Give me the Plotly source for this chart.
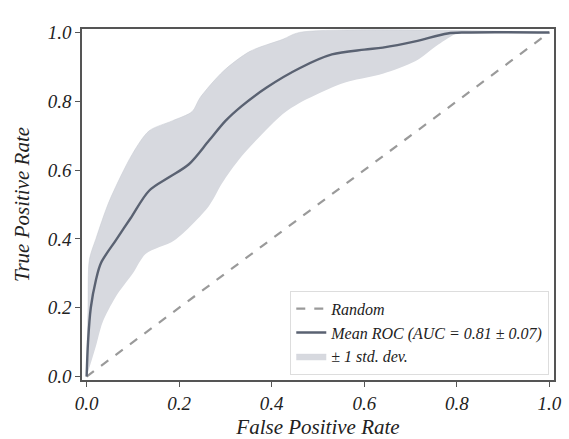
import plotly.graph_objects as go

# Mean ROC curve
mean_fpr = [0, 0.003, 0.009, 0.02, 0.031, 0.063, 0.095, 0.135, 0.178, 0.221, 0.264,
            0.30, 0.335, 0.389, 0.46, 0.53, 0.60, 0.64, 0.71, 0.78, 0.82, 1.0]
mean_tpr = [0, 0.10, 0.20, 0.28, 0.33, 0.396, 0.46, 0.54, 0.579, 0.617, 0.685,
            0.743, 0.786, 0.84, 0.896, 0.936, 0.95, 0.956, 0.974, 0.997, 1.0, 1.0]

# Upper band (mean + 1 std, clipped at 1)
upper_fpr = [0, 0.003, 0.006, 0.02, 0.049, 0.099, 0.135, 0.185, 0.228, 0.245,
             0.295, 0.353, 0.424, 0.46, 1.0]
upper_tpr = [0, 0.20, 0.34, 0.40, 0.51, 0.647, 0.714, 0.743, 0.77, 0.81,
             0.887, 0.945, 0.98, 1.0, 1.0]

# Lower band (mean - 1 std, clipped at 0)
lower_fpr = [0, 0.02, 0.034, 0.063, 0.10, 0.128, 0.19, 0.264, 0.292, 0.335,
             0.424, 0.46, 0.53, 0.568, 0.64, 0.71, 0.76, 0.80, 0.82, 1.0]
lower_tpr = [0, 0.088, 0.156, 0.232, 0.30, 0.357, 0.396, 0.495, 0.56, 0.64,
             0.763, 0.795, 0.84, 0.858, 0.88, 0.916, 0.965, 0.997, 1.0, 1.0]

random_x = [0, 1]
random_y = [0, 1]

tick_vals = [0.0, 0.2, 0.4, 0.6, 0.8, 1.0]
tick_text = ["0.0", "0.2", "0.4", "0.6", "0.8", "1.0"]

font_family = "Liberation Serif"

fig = go.Figure()

# band: lower then upper (filled to lower)
fig.add_trace(go.Scatter(x=lower_fpr, y=lower_tpr, mode="lines",
                         line=dict(width=0, color="rgba(0,0,0,0)", shape="spline", smoothing=0.8),
                         showlegend=False, hoverinfo="skip"))
fig.add_trace(go.Scatter(x=upper_fpr, y=upper_tpr, mode="lines",
                         line=dict(width=0.6, color="rgba(200,203,210,0.9)", shape="spline", smoothing=0.8),
                         fill="tonexty", fillcolor="rgba(215,217,223,1)",
                         name="\u00b1 1 std. dev.", legendrank=3))
fig.add_trace(go.Scatter(x=random_x, y=random_y, mode="lines",
                         line=dict(color="#9a9a9a", width=2.2, dash="dash"),
                         name="Random", legendrank=1))
fig.add_trace(go.Scatter(x=mean_fpr, y=mean_tpr, mode="lines",
                         line=dict(color="#5a6272", width=2.4, shape="spline", smoothing=0.9),
                         name="Mean ROC (AUC = 0.81 \u00b1 0.07)", legendrank=2))

axis_common = dict(
    range=[-0.01, 1.01],
    tickvals=tick_vals,
    ticktext=tick_text,
    showgrid=False,
    zeroline=False,
    showline=True,
    linecolor="#555555",
    linewidth=1.5,
    mirror=True,
    ticks="outside",
    ticklen=5,
    tickwidth=1.2,
    tickcolor="#555555",
    automargin=False,
    tickfont=dict(family=font_family, size=19, color="#222222", style="italic"),
)

fig.update_xaxes(**axis_common,
                 title=dict(text="False Positive Rate", standoff=10,
                            font=dict(family=font_family, size=21, color="#222222", style="italic")))
fig.update_yaxes(**axis_common,
                 title=dict(text="True Positive Rate", standoff=12,
                            font=dict(family=font_family, size=21, color="#222222", style="italic")))

fig.update_layout(
    width=569, height=439,
    margin=dict(l=82, r=15, t=29, b=59),
    plot_bgcolor="white",
    paper_bgcolor="white",
    legend=dict(
        x=0.99, y=0.015, xanchor="right", yanchor="bottom",
        bgcolor="rgba(255,255,255,0.9)",
        bordercolor="#dddddd", borderwidth=1,
        font=dict(family=font_family, size=16, color="#222222", style="italic"),
        traceorder="normal",
        tracegroupgap=0,
        itemwidth=30,
    ),
    showlegend=True,
)

fig.write_html("out.html")
